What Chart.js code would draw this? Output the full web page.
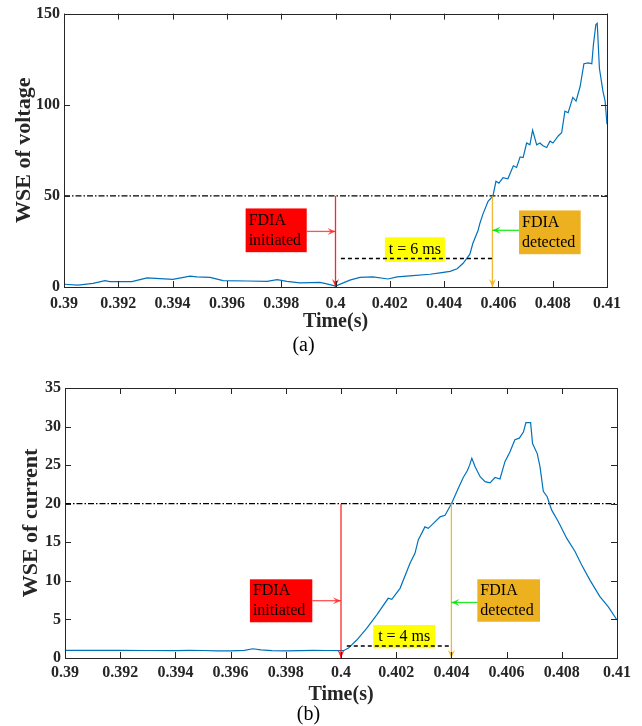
<!DOCTYPE html>
<html>
<head>
<meta charset="utf-8">
<script src="https://cdn.jsdelivr.net/npm/chart.js@4/dist/chart.umd.min.js"></script>
<style>
  body { margin: 0; background: #fff; }
  canvas { display: block; }
</style>
</head>
<body>
<canvas id="chartV" width="642" height="362"></canvas>
<canvas id="chartI" width="642" height="364"></canvas>
<script>
// (a) WSE of voltage
const timeV = [0.3900, 0.39052, 0.39107, 0.39151, 0.39169, 0.3925, 0.39306, 0.39401, 0.39464, 0.3949,
    0.39538, 0.39586, 0.39674, 0.39748, 0.39785, 0.39821, 0.39869, 0.39943, 0.39972, 0.4000,
    0.40053, 0.4009, 0.40138, 0.40193, 0.40227, 0.40285, 0.40348, 0.40385, 0.40422, 0.40448,
    0.4047, 0.40495, 0.40506, 0.40525, 0.40532, 0.40543, 0.40562, 0.4058, 0.40591, 0.40602,
    0.40617, 0.40635, 0.40655, 0.40667, 0.4068, 0.40691, 0.40704, 0.40716, 0.40726, 0.40741,
    0.40753, 0.40764, 0.40778, 0.4079, 0.40801, 0.40821, 0.40833, 0.40845, 0.40857, 0.40874,
    0.40886, 0.40901, 0.40915, 0.40931, 0.40944, 0.4095, 0.40959, 0.40964, 0.40972, 0.40985,
    0.40993, 0.4100];
const wseV = [1.5, 1.0, 2.0, 3.5, 3.0, 3.0, 5.0, 4.2, 6.0, 5.6,
    5.3, 3.5, 3.3, 3.1, 4.0, 3.1, 2.3, 2.5, 1.6, 0.5,
    3.8, 5.3, 5.6, 4.4, 5.6, 6.2, 7.0, 7.8, 8.6, 10.0,
    13.0, 18.0, 24.0, 31.0, 35.0, 40.0, 47.0, 50.0, 58.0, 57.0,
    60.0, 59.4, 66.5, 65.6, 71.4, 71.0, 79.0, 78.0, 86.0, 78.0,
    79.0, 77.5, 76.5, 80.0, 79.0, 83.0, 84.6, 96.5, 95.6, 104,
    102, 110, 122.5, 123, 122.5, 133, 144, 144.7, 120, 107.5,
    102, 89.3];
const thresholdV = 50;
const yTicksV = [0, 50, 100, 150];

// (b) WSE of current
const timeI = [0.3900, 0.3910, 0.3920, 0.3930, 0.3940, 0.3945, 0.3950, 0.3955, 0.3960, 0.3965,
    0.3968, 0.3971, 0.3975, 0.3980, 0.3985, 0.3990, 0.3995, 0.40008, 0.40026, 0.40057,
    0.40093, 0.40129, 0.40171, 0.40184, 0.40214, 0.4025, 0.40268, 0.4028, 0.40304, 0.40316,
    0.40335, 0.40359, 0.40377, 0.40401, 0.40425, 0.40443, 0.40458, 0.40466, 0.40474, 0.40486,
    0.40504, 0.40522, 0.4054, 0.40558, 0.40576, 0.40594, 0.40612, 0.4063, 0.40646, 0.40661,
    0.4067, 0.40687, 0.40694, 0.40711, 0.40721, 0.40733, 0.40747, 0.40763, 0.40787, 0.40818,
    0.40848, 0.40872, 0.40902, 0.40938, 0.40968, 0.4100];
const wseI = [1.0, 0.98, 1.0, 0.97, 0.95, 1.0, 0.97, 0.92, 0.92, 1.0,
    1.2, 1.05, 0.95, 0.92, 0.96, 0.98, 0.97, 0.95, 1.25, 2.33,
    3.85, 5.57, 7.74, 7.6, 9.03, 12.27, 13.57, 15.3, 17.0, 16.8,
    17.46, 18.3, 18.5, 20.05, 22.0, 23.4, 24.3, 25.0, 25.9, 24.8,
    23.5, 22.86, 22.7, 23.4, 23.2, 25.45, 26.7, 28.3, 28.5, 29.3,
    30.5, 30.5, 27.8, 26.5, 24.8, 21.6, 20.9, 19.2, 17.7, 15.5,
    13.8, 12.06, 10.1, 7.95, 6.65, 4.93];
const thresholdI = 20;
const yTicksI = [0, 5, 10, 15, 20, 25, 30, 35];

const xTicks = [0.39, 0.392, 0.394, 0.396, 0.398, 0.4, 0.402, 0.404, 0.406, 0.408, 0.41];

// annotation anchors, in data units
const notesV = {
    attack: 0.4, detect: 0.40578, threshold: thresholdV,
    redBox: [0.39669, 0.39894, 43.1, 19.1], redArrowY: 30.5,
    gapY: 15.6, gapFrom: 0.4002, gapText: "t = 6 ms",
    yellowBox: [0.40182, 0.40403, 27.3, 13.8],
    orangeBox: [0.40676, 0.40903, 42.0, 18.0], greenArrowY: 31.1,
};
const notesI = {
    attack: 0.4, detect: 0.404, threshold: thresholdI,
    redBox: [0.3967, 0.39896, 10.2, 4.63], redArrowY: 7.43,
    gapY: 1.56, gapFrom: 0.40021, gapText: "t = 4 ms",
    yellowBox: [0.40117, 0.40341, 4.28, 1.26],
    orangeBox: [0.40494, 0.40721, 10.2, 4.7], greenArrowY: 7.2,
};

const SERIF = "'Liberation Serif', 'Times New Roman', serif";
const INK = "#262626";

function arrow(ctx, x1, y1, x2, y2, color) {
    ctx.strokeStyle = color;
    ctx.fillStyle = color;
    ctx.lineWidth = 1.3;
    ctx.beginPath();
    ctx.moveTo(x1, y1);
    ctx.lineTo(x2, y2);
    ctx.stroke();
    const a = Math.atan2(y2 - y1, x2 - x1);
    ctx.beginPath();
    ctx.moveTo(x2, y2);
    ctx.lineTo(x2 - 8 * Math.cos(a) + 3.5 * Math.sin(a), y2 - 8 * Math.sin(a) - 3.5 * Math.cos(a));
    ctx.lineTo(x2 - 5 * Math.cos(a), y2 - 5 * Math.sin(a));
    ctx.lineTo(x2 - 8 * Math.cos(a) - 3.5 * Math.sin(a), y2 - 8 * Math.sin(a) + 3.5 * Math.cos(a));
    ctx.closePath();
    ctx.fill();
}

function textBox(ctx, x, y, box, fill, lines) {
    const l = x.getPixelForValue(box[0]), r = x.getPixelForValue(box[1]);
    const t = y.getPixelForValue(box[2]), b = y.getPixelForValue(box[3]);
    ctx.fillStyle = fill;
    ctx.fillRect(l, t, r - l, b - t);
    ctx.fillStyle = "#000";
    ctx.font = "16px " + SERIF;
    ctx.textBaseline = "middle";
    const mid = (t + b) / 2;
    lines.forEach((s, i) => {
        ctx.textAlign = lines.length > 1 ? "left" : "center";
        const tx = lines.length > 1 ? l + 3 : (l + r) / 2;
        ctx.fillText(s, tx, mid + (i - (lines.length - 1) / 2) * 20);
    });
    return { l, r, t, b };
}

const framePlugin = {
    id: "frame",
    afterDatasetsDraw(chart, args, n) {
        const { ctx, chartArea: a, scales: { x, y } } = chart;
        ctx.save();

        // annotations
        const xa = x.getPixelForValue(n.attack), xd = x.getPixelForValue(n.detect);
        const yth = y.getPixelForValue(n.threshold), y0 = y.getPixelForValue(0);
        const red = textBox(ctx, x, y, n.redBox, "#ff0000", ["FDIA", "initiated"]);
        const org = textBox(ctx, x, y, n.orangeBox, "#edb120", ["FDIA", "detected"]);
        textBox(ctx, x, y, n.yellowBox, "#ffff00", [n.gapText]);
        arrow(ctx, xa, yth, xa, y0, "rgba(255,0,0,0.85)");
        arrow(ctx, red.r, y.getPixelForValue(n.redArrowY), xa, y.getPixelForValue(n.redArrowY), "rgba(255,40,40,0.8)");
        arrow(ctx, xd, yth, xd, y0, "rgba(237,177,32,0.9)");
        arrow(ctx, org.l, y.getPixelForValue(n.greenArrowY), xd, y.getPixelForValue(n.greenArrowY), "rgba(0,230,0,0.85)");
        ctx.strokeStyle = "#000";
        ctx.lineWidth = 1.5;
        ctx.setLineDash([4, 3]);
        ctx.beginPath();
        ctx.moveTo(x.getPixelForValue(n.gapFrom), y.getPixelForValue(n.gapY));
        ctx.lineTo(xd, y.getPixelForValue(n.gapY));
        ctx.stroke();
        ctx.setLineDash([]);

        // box and inward ticks
        ctx.strokeStyle = INK;
        ctx.lineWidth = 1;
        ctx.beginPath();
        x.ticks.forEach(t => {
            const px = Math.round(x.getPixelForValue(t.value)) + 0.5;
            ctx.moveTo(px, a.bottom); ctx.lineTo(px, a.bottom - 6);
            ctx.moveTo(px, a.top); ctx.lineTo(px, a.top + 6);
        });
        y.ticks.forEach(t => {
            const py = Math.round(y.getPixelForValue(t.value)) + 0.5;
            ctx.moveTo(a.left, py); ctx.lineTo(a.left + 6, py);
            ctx.moveTo(a.right, py); ctx.lineTo(a.right - 6, py);
        });
        ctx.stroke();
        ctx.strokeRect(Math.round(a.left) + 0.5, Math.round(a.top) + 0.5, Math.round(a.width), Math.round(a.height));
        ctx.restore();
    },
};

function makeChart(id, t, v, thr, yTicks, notes, s) {
    const pts = t.map((tt, i) => ({ x: tt, y: v[i] }));
    new Chart(document.getElementById(id), {
        type: "line",
        data: {
            datasets: [
                { data: pts, borderColor: "#0072bd", borderWidth: 1.2, pointRadius: 0, tension: 0 },
                {
                    data: [{ x: xTicks[0], y: thr }, { x: xTicks[xTicks.length - 1], y: thr }],
                    borderColor: "#000", borderWidth: 1.2, borderDash: [6, 2, 1.5, 2], pointRadius: 0,
                },
            ],
        },
        options: {
            responsive: false,
            animation: false,
            layout: { padding: { top: s.top, right: s.right, left: 0, bottom: 0 } },
            plugins: {
                legend: { display: false },
                tooltip: { enabled: false },
                title: {
                    display: true, position: "bottom", text: s.tag, color: "#000",
                    font: { family: SERIF, size: 20, weight: "normal", lineHeight: 1 },
                    padding: { top: 0, bottom: s.tagPad },
                },
                frame: notes,
            },
            scales: {
                x: {
                    type: "linear",
                    min: xTicks[0], max: xTicks[xTicks.length - 1],
                    afterFit: sc => { sc.height = s.xH; },
                    afterBuildTicks: sc => { sc.ticks = xTicks.map(value => ({ value })); },
                    grid: { display: false, drawTicks: false },
                    border: { display: false },
                    ticks: {
                        color: INK, padding: s.xPad, maxRotation: 0, autoSkip: false,
                        font: { family: SERIF, size: 16, weight: "bold" },
                        callback: val => String(+val.toFixed(3)),
                    },
                    title: {
                        display: true, text: "Time(s)", color: INK,
                        font: { family: SERIF, size: 20, weight: "bold", lineHeight: 1 },
                        padding: { top: 0, bottom: s.timePad },
                    },
                },
                y: {
                    min: yTicks[0], max: yTicks[yTicks.length - 1],
                    afterFit: sc => { sc.width = s.left; },
                    afterBuildTicks: sc => { sc.ticks = yTicks.map(value => ({ value })); },
                    grid: { display: false, drawTicks: false },
                    border: { display: false },
                    ticks: {
                        color: INK, padding: 4,
                        font: { family: SERIF, size: 16, weight: "bold" },
                    },
                    title: {
                        display: true, text: s.yTitle, color: INK,
                        font: { family: SERIF, size: 22, weight: "bold", lineHeight: 1 },
                        padding: { top: s.yTitlePad, bottom: 0 },
                    },
                },
            },
        },
        plugins: [framePlugin],
    });
}

makeChart("chartV", timeV, wseV, thresholdV, yTicksV, notesV, {
    top: 12, right: 35, left: 64, xH: 49, xPad: 7, timePad: 4, tag: "(a)", tagPad: 6,
    yTitle: "WSE of voltage", yTitlePad: 13,
});
makeChart("chartI", timeI, wseI, thresholdI, yTicksI, notesI, {
    top: 26, right: 25, left: 65, xH: 47, xPad: 5, timePad: 0, tag: "(b)", tagPad: 1,
    yTitle: "WSE of current", yTitlePad: 20,
});
</script>
</body>
</html>
